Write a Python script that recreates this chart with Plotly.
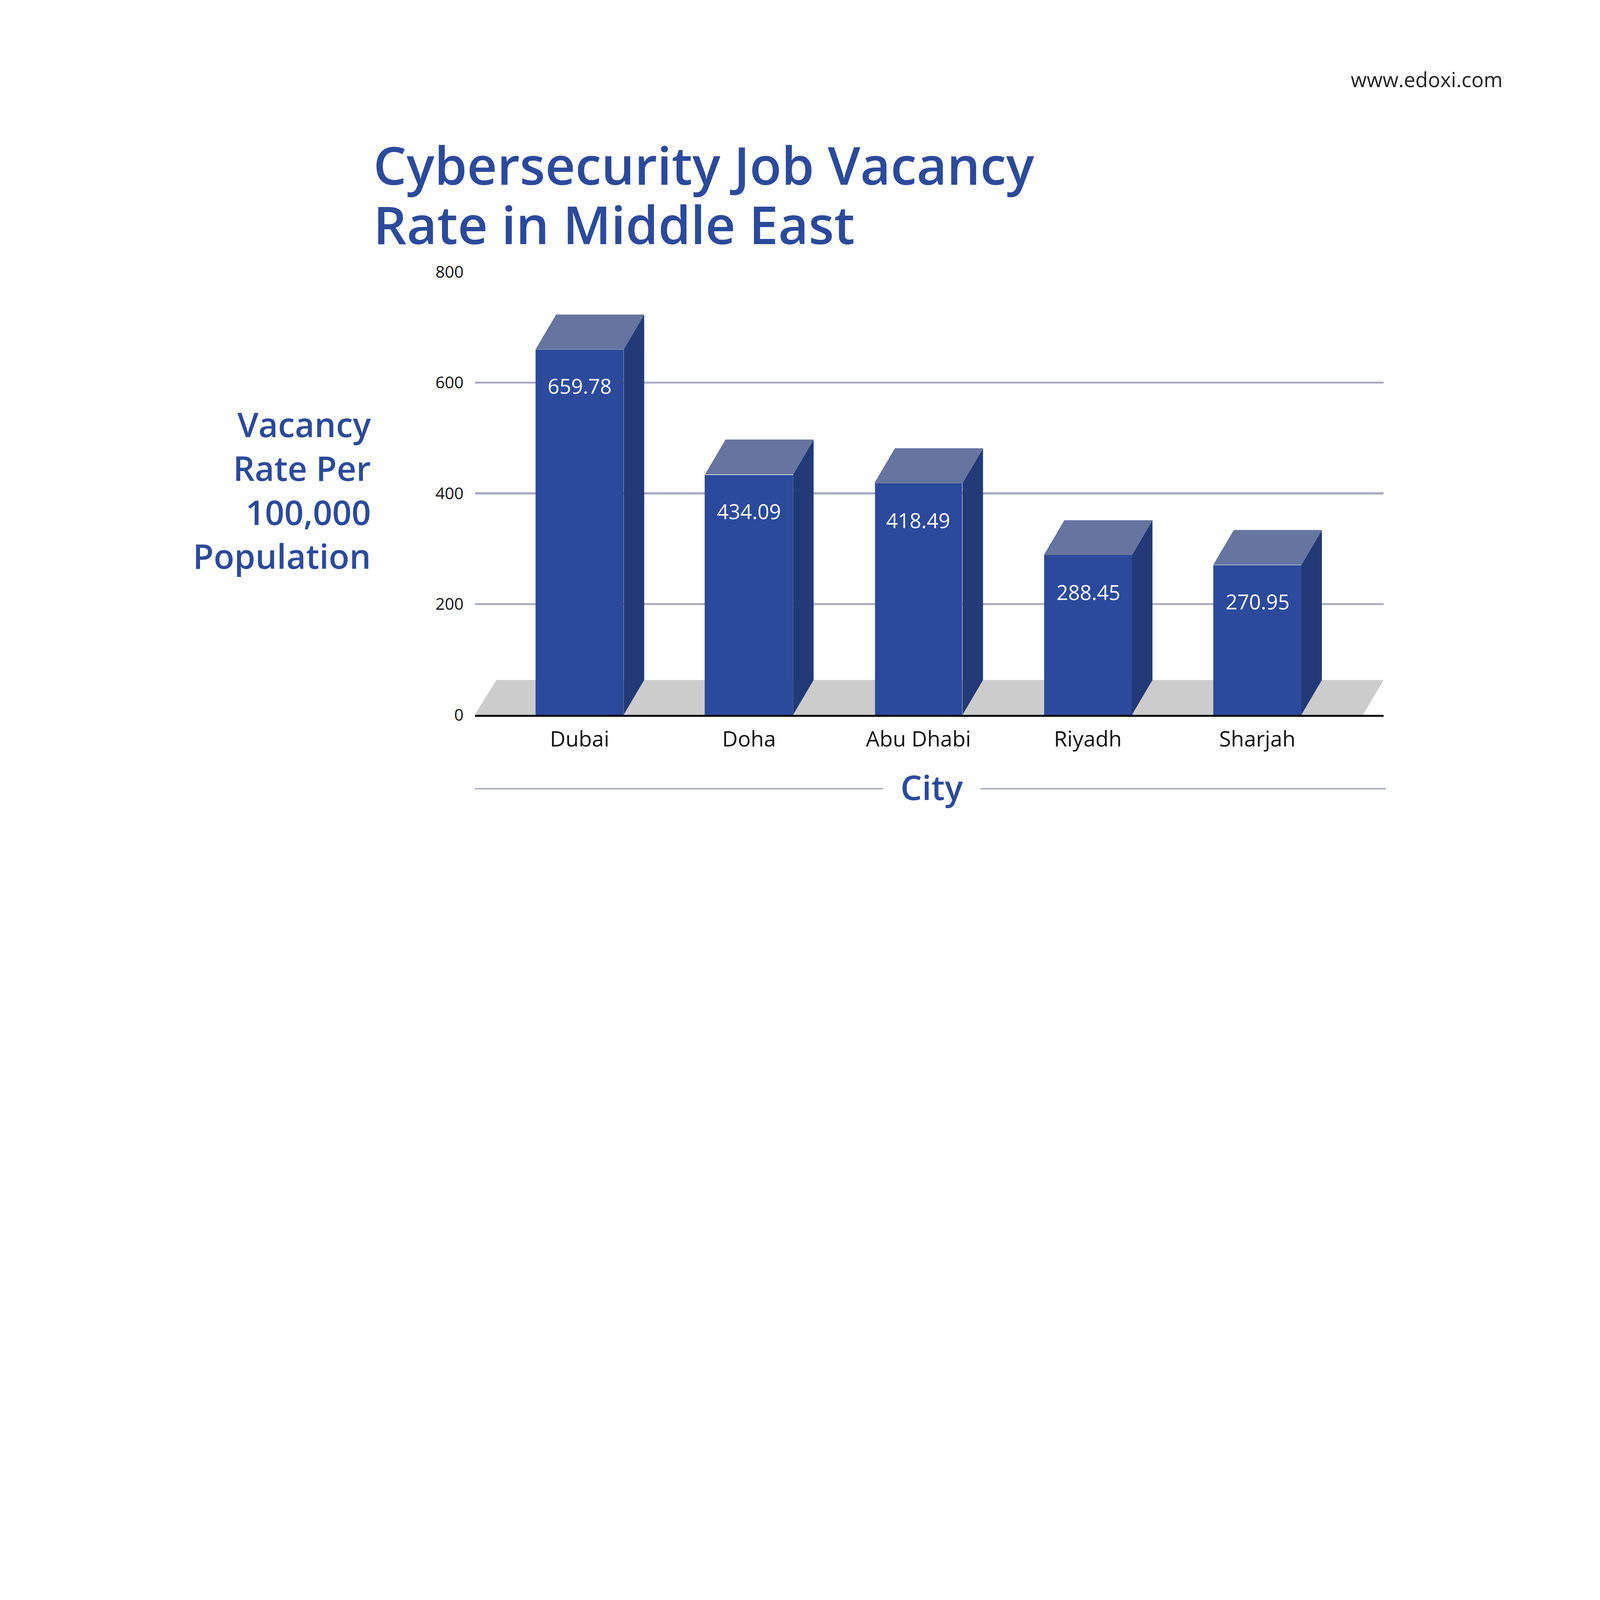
import plotly.graph_objects as go

cities = ["Dubai", "Doha", "Abu Dhabi", "Riyadh", "Sharjah"]
values = [659.78, 434.09, 418.49, 288.45, 270.95]
labels = ["659.78", "434.09", "418.49", "288.45", "270.95"]

W, H = 1560, 878
L, R, T, B = 463, 1349, 265, 697  # plot area in reference px

def pxp(x): return (x - L) / (R - L)
def pyp(y): return (B - y) / (B - T)

xs = list(range(len(cities)))
bw = 0.52
dx = 20 / 165
dy = 34 / 54 * 100

front, side, top, floor = "#2B4A9B", "#233A78", "#6674A0", "#CCCCCC"

fig = go.Figure(go.Bar(
    x=xs, y=values, width=bw, marker=dict(color=front, line=dict(width=0)),
    hoverinfo="skip"))

shapes = []
xmin, xmax = -102 / 165, 4 + 123 / 165
shapes.append(dict(type="path", xref="x", yref="y", layer="below",
    path=f"M {xmin},0 L {xmin+dx*1.05},{dy} L {xmax},{dy} L {xmax-dx},0 Z",
    fillcolor=floor, line=dict(width=0)))
for x, v in zip(xs, values):
    a, b = x - bw / 2, x + bw / 2
    shapes.append(dict(type="path", xref="x", yref="y",
        path=f"M {b},0 L {b+dx},{dy} L {b+dx},{v+dy} L {b},{v} Z",
        fillcolor=side, line=dict(width=0)))
    shapes.append(dict(type="path", xref="x", yref="y",
        path=f"M {a},{v} L {a+dx},{v+dy} L {b+dx},{v+dy} L {b},{v} Z",
        fillcolor=top, line=dict(width=0)))
shapes.append(dict(type="line", xref="paper", yref="paper", x0=pxp(463), x1=pxp(861),
    y0=pyp(769), y1=pyp(769), line=dict(color="#A9AEC0", width=1.5)))
shapes.append(dict(type="line", xref="paper", yref="paper", x0=pxp(956), x1=pxp(1351),
    y0=pyp(769), y1=pyp(769), line=dict(color="#A9AEC0", width=1.5)))

blue = "#2B4A9B"
tfont = dict(size=51, color=blue, family="Open Sans", weight=600)
ann = [
    dict(text="Cybersecurity Job Vacancy", x=pxp(362), y=pyp(160),
         xanchor="left", yanchor="middle", align="left", font=tfont),
    dict(text="Rate in Middle East", x=pxp(362), y=pyp(218),
         xanchor="left", yanchor="middle", align="left", font=tfont),
    dict(text="Vacancy<br>Rate Per<br>100,000<br>Population", x=pxp(364), y=pyp(478),
         xanchor="right", yanchor="middle", align="right",
         font=dict(size=33, color=blue, family="Open Sans", weight=600)),
    dict(text="City", x=pxp(908), y=pyp(767), xanchor="center", yanchor="middle",
         font=dict(size=33, color=blue, family="Open Sans", weight=600)),
    dict(text="www.edoxi.com", x=pxp(1467), y=pyp(78), xanchor="right", yanchor="middle",
         font=dict(size=20, color="#222", family="Open Sans")),
]
for a in ann:
    a.update(xref="paper", yref="paper", showarrow=False)
for x, v, t in zip(xs, values, labels):
    ann.append(dict(text=t, x=x, y=v, xref="x", yref="y", showarrow=False,
                    xanchor="center", yanchor="middle", yshift=-36,
                    font=dict(size=20, color="white", family="Open Sans")))

fig.update_layout(
    width=W, height=H, paper_bgcolor="white", plot_bgcolor="white",
    margin=dict(l=L, r=W - R, t=T, b=H - B),
    shapes=shapes, annotations=ann, showlegend=False, bargap=0,
    xaxis=dict(range=[xmin, xmax], tickvals=xs, ticktext=cities, showgrid=False,
               zeroline=False, showline=True, linecolor="black", linewidth=1.5,
               tickfont=dict(size=21, color="#111", family="Open Sans"), ticks="",
               ticklabelstandoff=4),
    yaxis=dict(range=[0, 800], tickvals=[0, 200, 400, 600, 800], showgrid=True,
               gridcolor="#A9AEC0", gridwidth=1.5, zeroline=False, showline=False,
               tickfont=dict(size=16, color="#111", family="Open Sans"), ticks="",
               ticklabelstandoff=10),
)
post = (
    "document.body.style.margin='0';document.body.style.overflow='hidden';"
    "var gd=document.getElementById('{plot_id}');"
    f"var k=Math.min(window.innerWidth/{W}, window.innerHeight/{H});"
    "gd.style.transformOrigin='0 0';gd.style.transform='scale('+k+')';"
)
fig.write_html("out.html", config={"displayModeBar": False}, post_script=post)
